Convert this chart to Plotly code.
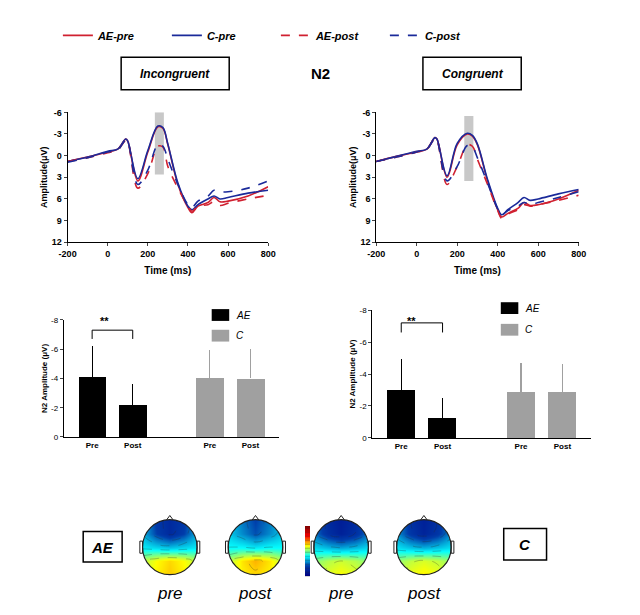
import math
import plotly.graph_objects as go

W, H = 640, 615

def px(x):
    return x / W

def py(y):
    return 1 - y / H

# ---- ERP waveforms (ms, µV) ----
times = [-200, -100, 0, 50, 90, 100, 150, 200, 250, 275, 300, 350, 400, 420, 450, 500, 530, 560, 600, 700, 800]

inc_ae_pre = [0.8, 0.2, -0.5, -0.9, -2.3, -2.0, 3.5, -0.5, -4.0, -3.8, -1.5, 4.0, 7.2, 7.9, 7.0, 6.5, 5.8, 6.4, 6.3, 5.6, 4.3]
inc_c_pre = [0.8, 0.2, -0.6, -0.9, -2.3, -2.0, 3.2, -0.7, -4.1, -3.9, -1.6, 3.8, 7.0, 7.5, 6.8, 6.0, 5.6, 6.0, 5.8, 5.2, 4.8]
inc_ae_post = [0.8, 0.3, -0.4, -0.8, -2.1, -1.9, 4.5, 2.5, -1.3, -1.2, 1.5, 4.5, 7.0, 7.7, 7.0, 6.8, 6.4, 6.9, 6.6, 6.0, 5.5]
inc_c_post = [0.9, 0.3, -0.5, -0.8, -2.2, -2.0, 4.0, 2.0, -1.5, -1.3, 0.5, 4.0, 6.8, 7.2, 6.3, 5.6, 4.8, 5.0, 5.0, 4.5, 3.5]

con_ae_pre = [0.8, 0.1, -0.5, -0.9, -2.5, -2.3, 3.0, -1.5, -3.0, -2.7, -1.5, 3.5, 7.5, 8.5, 8.0, 7.3, 6.5, 6.9, 6.8, 6.0, 4.8]
con_c_pre = [0.8, 0.1, -0.6, -0.9, -2.5, -2.3, 2.8, -1.7, -3.1, -2.8, -1.6, 3.3, 7.3, 8.2, 7.5, 6.5, 5.8, 6.2, 6.0, 5.3, 4.7]
con_ae_post = [0.8, 0.2, -0.5, -0.9, -2.4, -2.2, 4.0, 1.5, -1.5, -1.3, 0.5, 4.0, 7.6, 8.7, 8.1, 7.5, 6.8, 7.0, 6.8, 6.2, 5.5]
con_c_post = [0.8, 0.2, -0.5, -0.9, -2.4, -2.2, 3.5, 1.5, -1.4, -1.2, 0.3, 3.8, 7.4, 8.2, 7.6, 7.0, 6.5, 6.8, 6.5, 5.8, 5.0]

n2_window = [235, 280]
inc_window_amp = [-6, 2.6]
con_window_amp = [-5.5, 3.5]

erp_ticks = [-6, -3, 0, 3, 6, 9, 12]
time_ticks = [-200, 0, 200, 400, 600, 800]

# ---- N2 amplitude bars ----
bar_labels = ["Pre", "Post", "Pre", "Post"]
bar_pos = [1, 2, 3.9, 4.9]
inc_means = [-4.1, -2.2, -4.05, -4.0]
inc_err = [2.15, 1.4, 1.9, 2.0]
con_means = [-3.0, -1.25, -2.9, -2.85]
con_err = [1.95, 1.25, 1.8, 1.75]
bar_ticks = [0, -2, -4, -6, -8]

# ---- topographic maps (5x5 grid, back -> front) ----
topo_grid = [-1, -0.5, 0, 0.5, 1]
topo_ae_pre = [[0.6, 1.1, 1.4, 1.1, 0.6],
               [0.4, 1.0, 1.3, 1.0, 0.4],
               [-1.2, -1.4, -1.6, -1.4, -1.2],
               [-1.8, -3.0, -3.6, -3.0, -1.8],
               [-1.8, -3.2, -3.6, -3.2, -1.8]]
topo_ae_post = [[0.6, 1.1, 1.3, 1.1, 0.6],
                [0.4, 1.2, 1.6, 1.2, 0.4],
                [-1.0, -1.0, -1.2, -1.0, -1.0],
                [-1.5, -2.2, -2.8, -2.2, -1.5],
                [-1.5, -2.4, -3.0, -2.4, -1.5]]
topo_c_pre = [[0.4, 0.8, 1.0, 0.8, 0.4],
              [0.0, 0.4, 0.6, 0.4, 0.0],
              [-1.4, -1.7, -1.9, -1.7, -1.4],
              [-2.4, -3.4, -3.9, -3.4, -2.4],
              [-2.4, -3.6, -4.0, -3.6, -2.4]]
topo_c_post = [[0.4, 0.9, 1.1, 0.9, 0.4],
               [0.1, 0.5, 0.7, 0.5, 0.1],
               [-1.3, -1.6, -1.8, -1.6, -1.3],
               [-2.1, -3.2, -3.8, -3.2, -2.1],
               [-2.1, -3.4, -3.9, -3.4, -2.1]]
topo_labels = ["pre", "post", "pre", "post"]

RED = "#d02030"
BLUE = "#1a2a9a"
GRAY = "#a0a0a0"
FONT = "Liberation Sans"

fig = go.Figure()

series = [("AE-pre", RED, "solid"), ("C-pre", BLUE, "solid"),
          ("AE-post", RED, "dash"), ("C-post", BLUE, "dash")]
for ax, data in [("x", [inc_ae_pre, inc_c_pre, inc_ae_post, inc_c_post]),
                 ("x2", [con_ae_pre, con_c_pre, con_ae_post, con_c_post])]:
    for (name, col, dash), vals in zip(series, data):
        fig.add_trace(go.Scatter(
            x=times, y=vals, mode="lines", name=name, showlegend=(ax == "x"),
            line=dict(color=col, dash=dash, width=1.6, shape="spline"),
            xaxis=ax, yaxis=ax.replace("x", "y")))

for ax, means, err in [("x3", inc_means, inc_err), ("x4", con_means, con_err)]:
    for sl, col in [(slice(0, 2), "black"), (slice(2, 4), GRAY)]:
        fig.add_trace(go.Bar(
            x=bar_pos[sl], y=means[sl], marker=dict(color=col, line=dict(width=0)), width=0.68,
            error_y=dict(type="data", array=[0, 0], arrayminus=err[sl], color=col, thickness=1.2, width=0),
            showlegend=False, xaxis=ax, yaxis=ax.replace("x", "y")))

head_centers = [157, 245, 333, 418]
head_r = 28
for i, z in enumerate([topo_ae_pre, topo_ae_post, topo_c_pre, topo_c_post]):
    n = i + 5
    fig.add_trace(go.Contour(
        x=topo_grid, y=topo_grid, z=z, colorscale="Jet", zmin=-5, zmax=5,
        contours=dict(coloring="heatmap", start=-5, end=5, size=0.8),
        line=dict(color="rgba(40,40,40,0.55)", width=0.5, dash="dash", smoothing=1.3),
        showscale=(i == 0),
        colorbar=dict(x=px(296), xanchor="left", xpad=0, ypad=0, y=py(547), yanchor="middle",
                      len=50, lenmode="pixels", thickness=5, showticklabels=False,
                      outlinewidth=0, ticks=""),
        xaxis=f"x{n}", yaxis=f"y{n}"))

axfont = dict(size=9, family=FONT, color="black", weight="bold")
erp_y = dict(range=[12, -6], tickvals=erp_ticks, ticktext=[str(t) for t in erp_ticks],
             ticks="outside", ticklen=3, showgrid=False, zeroline=False, showline=True, linecolor="black",
             tickfont=axfont,
             title=dict(text="Amplitude(μV)", font=dict(size=9, family=FONT, weight="bold"), standoff=2))
erp_x = dict(range=[-200, 800], tickvals=time_ticks, ticktext=[str(t) for t in time_ticks],
             ticks="outside", ticklen=3, showgrid=False, zeroline=False, showline=True, linecolor="black",
             tickfont=axfont,
             title=dict(text="Time (ms)", font=dict(size=10, family=FONT, weight="bold"), standoff=8))
bar_y = dict(range=[0, -8], tickvals=bar_ticks, ticktext=[str(t) for t in bar_ticks],
             ticks="outside", ticklen=3, showgrid=False, zeroline=False, showline=True, linecolor="black",
             tickfont=dict(size=8, family=FONT, color="black"),
             title=dict(text="N2 Amplitude (μV)", font=dict(size=8, family=FONT, weight="bold"), standoff=2))
bar_x = dict(range=[0.3, 5.6], tickvals=bar_pos, ticktext=bar_labels, ticks="", showgrid=False,
             zeroline=False, showline=True, linecolor="black",
             tickfont=dict(size=8, family=FONT, color="black", weight="bold"))

layout = dict(
    width=W, height=H, margin=dict(l=0, r=0, t=0, b=0),
    paper_bgcolor="white", plot_bgcolor="white", bargap=0,
    font=dict(family=FONT, color="black"),
    legend=dict(orientation="h", x=px(42), xanchor="left", y=py(8), yanchor="top",
                font=dict(size=11, family=FONT, weight="bold", style="italic"),
                itemwidth=30, entrywidth=64, entrywidthmode="pixels"),
    xaxis=dict(erp_x, domain=[px(52), px(258)], anchor="y"),
    yaxis=dict(erp_y, domain=[py(233), py(101)], anchor="x"),
    xaxis2=dict(erp_x, domain=[px(369), px(577)], anchor="y2"),
    yaxis2=dict(erp_y, domain=[py(233), py(101)], anchor="x2"),
    xaxis3=dict(bar_x, domain=[px(48), px(269)], anchor="y3"),
    yaxis3=dict(bar_y, domain=[py(431), py(312)], anchor="x3"),
    xaxis4=dict(bar_x, domain=[px(365), px(590)], anchor="y4"),
    yaxis4=dict(bar_y, domain=[py(432), py(302)], anchor="x4"),
)
span = head_r * 1.25
for i, cx in enumerate(head_centers):
    n = i + 5
    ax = dict(range=[-1.25, 1.25], visible=False, showgrid=False, zeroline=False)
    layout[f"xaxis{n}"] = dict(ax, domain=[px(cx - span), px(cx + span)], anchor=f"y{n}")
    layout[f"yaxis{n}"] = dict(ax, domain=[py(543 + span), py(543 - span)], anchor=f"x{n}")
fig.update_layout(**layout)

shapes = []
for ax, amp in [("", inc_window_amp), ("2", con_window_amp)]:
    shapes.append(dict(type="rect", xref="x" + ax, yref="y" + ax, x0=n2_window[0], x1=n2_window[1],
                       y0=amp[0], y1=amp[1], fillcolor="#c8c8c8", line=dict(width=0), layer="below"))

# significance brackets
for ax, top in [("3", -7.3), ("4", -7.2)]:
    shapes.append(dict(type="path", xref="x" + ax, yref="y" + ax,
                       path=f"M {bar_pos[0]},{top + 0.6} L {bar_pos[0]},{top} L {bar_pos[1]},{top} L {bar_pos[1]},{top + 0.6}",
                       line=dict(color="black", width=1)))

# mask outside head + outline, nose, ears
circ = " ".join(f"{'M' if k == 0 else 'L'} {math.cos(2 * math.pi * k / 72):.4f},{math.sin(-2 * math.pi * k / 72):.4f}" for k in range(73))
for i in range(4):
    n = i + 5
    xr, yr = f"x{n}", f"y{n}"
    shapes.append(dict(type="path", xref=xr, yref=yr,
                       path="M -1.3,-1.3 L 1.3,-1.3 L 1.3,1.3 L -1.3,1.3 Z " + circ + " Z",
                       fillcolor="white", line=dict(width=0)))
    shapes.append(dict(type="circle", xref=xr, yref=yr, x0=-1, x1=1, y0=-1, y1=1,
                       line=dict(color="#222", width=1.2)))
    shapes.append(dict(type="path", xref=xr, yref=yr, path="M -0.12,0.99 L 0,1.15 L 0.12,0.99",
                       line=dict(color="#222", width=1)))
    for s in (-1, 1):
        shapes.append(dict(type="rect", xref=xr, yref=yr, x0=s * 1.0, x1=s * 1.1, y0=-0.22, y1=0.22,
                           line=dict(color="#222", width=1)))

# text boxes
for x0, y0, x1, y1 in [(107, 45, 218, 78), (417, 45, 518, 78), (68, 527, 108, 558), (500, 524, 544, 556)]:
    shapes.append(dict(type="rect", xref="paper", yref="paper", x0=px(x0), x1=px(x1), y0=py(y1), y1=py(y0),
                       line=dict(color="black", width=1.5)))

# bar legends
for x, y, col in [(200, 307, "black"), (200, 328, GRAY), (497, 300, "black"), (497, 322, GRAY)]:
    shapes.append(dict(type="rect", xref="paper", yref="paper", x0=px(x), x1=px(x + 18), y0=py(y + 6), y1=py(y - 6),
                       fillcolor=col, line=dict(width=0)))
fig.update_layout(shapes=shapes)

ann = []
def text(x, y, s, size, bold=False, italic=False, anchor="center"):
    ann.append(dict(xref="paper", yref="paper", x=px(x), y=py(y), text=s, showarrow=False,
                    xanchor=anchor, yanchor="middle",
                    font=dict(size=size, family=FONT, color="black",
                              weight="bold" if bold else "normal", style="italic" if italic else "normal")))

text(162, 62, "Incongruent", 12, True, True)
text(312, 62, "N2", 15, True)
text(468, 62, "Congruent", 12, True, True)
text(88, 543, "AE", 15, True, True)
text(522, 540, "C", 15, True, True)
for lbl, cx in zip(topo_labels, head_centers):
    text(cx, 590, lbl, 17, False, True)
text(223, 307, "AE", 10, False, True, "left")
text(223, 328, "C", 10, False, True, "left")
text(520, 300, "AE", 10, False, True, "left")
text(520, 322, "C", 10, False, True, "left")
text(90, 313, "**", 11, True)
text(405, 313, "**", 11, True)
fig.update_layout(annotations=ann)

fig.write_html("out.html")
